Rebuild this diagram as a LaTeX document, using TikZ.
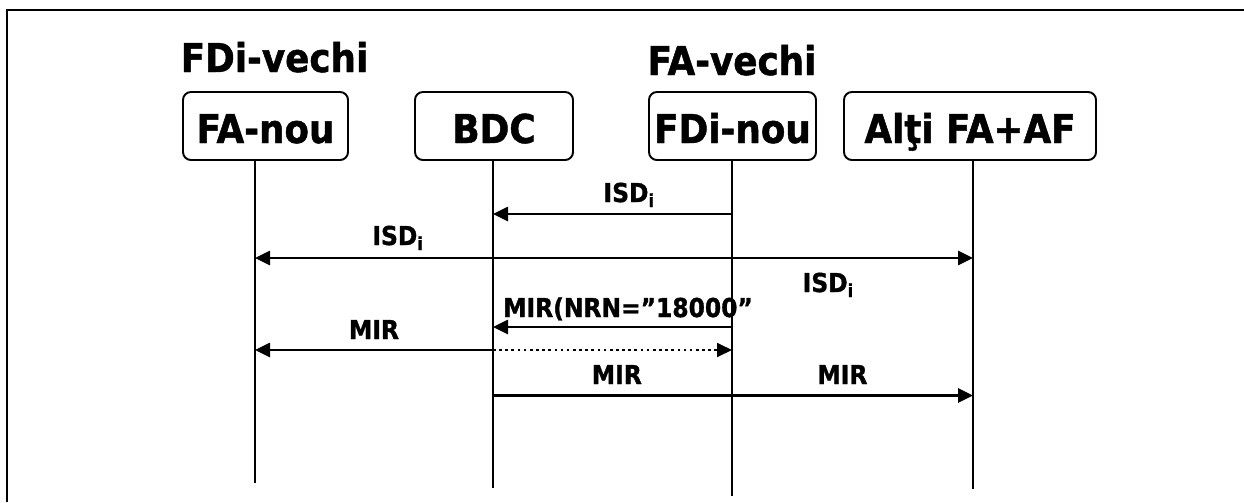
\documentclass[tikz,border=0pt]{standalone}
\usepackage{fontspec}
\setmainfont{DejaVu Sans Condensed}[BoldFeatures={FakeBold=1.2}]
\usepackage{tikz}
\usetikzlibrary{positioning,arrows.meta,calc}

\newcommand{\bigtxt}{\fontsize{22.6}{27}\selectfont\bfseries}
\newcommand{\smalltxt}{\fontsize{14.8}{17}\selectfont\bfseries}

\begin{document}
\begin{tikzpicture}[
  actor/.style={draw, rounded corners=4.5pt, line width=1.1pt, inner sep=0pt,
                minimum height=1.36cm, text height=0.68cm, text depth=0pt, font=\bigtxt},
  role/.style ={anchor=base, inner sep=0pt, font=\bigtxt},
  life/.style ={line width=1.2pt},
  msg/.style  ={-{Triangle[length=0.3cm,width=0.28cm]}, line width=1.5pt},
  opt/.style  ={msg, dotted, line width=1pt},
  lbl/.style  ={anchor=base, inner sep=0pt, font=\smalltxt},
  frame/.style={line width=1.3pt},
]
\useasboundingbox (0,0) rectangle (24.88,-10.04);
\draw[frame] (0.14,-10.04) -- (0.14,-0.2) -- (24.88,-0.2);

\node[actor, minimum width=3.30cm] (fanou)  at (5.31,-2.52)  {FA-nou};
\node[actor, minimum width=3.16cm] (bdc)    at (9.88,-2.52)  {BDC};
\node[actor, minimum width=3.34cm] (fdinou) at (14.65,-2.52) {FDi-nou};
\node[actor, minimum width=5.04cm] (alti)   at (19.40,-2.52) {Alţi FA+AF};

\node[role] (fdivechi) at (5.49,-1.44)  {FDi-vechi};
\node[role] (favechi)  at (14.64,-1.50) {FA-vechi};

% lifelines
\foreach \n/\dx/\yb in {fanou/-0.21/-9.66, bdc/-0.02/-9.76, fdinou/-0.01/-9.92, alti/0.06/-9.78}{
  \draw[life] ([xshift=\dx cm]\n.south) coordinate (\n L) -- (\n L |- 0,\yb);
}

% message levels
\coordinate (y1) at (0,-4.28);
\coordinate (y2) at (0,-5.16);
\coordinate (y3) at (0,-6.54);
\coordinate (y4) at (0,-7.00);
\coordinate (y5) at (0,-7.91);

\draw[msg] (fdinouL |- y1) -- node[lbl, pos=0.43, yshift=0.24cm] {ISD\textsubscript{i}} (bdcL |- y1);
\draw[msg] (fdinouL |- y2) -- node[lbl, pos=0.70, yshift=0.26cm] {ISD\textsubscript{i}} (fanouL |- y2);
\draw[msg] (fdinouL |- y2) -- node[lbl, pos=0.40, yshift=-0.68cm] {ISD\textsubscript{i}} (altiL |- y2);
\draw[msg] (fdinouL |- y3) -- node[lbl, pos=0.435, yshift=0.20cm] {MIR(NRN=”18000”} (bdcL |- y3);
\draw[msg] (bdcL |- y4) -- node[lbl, pos=0.5, yshift=0.22cm] {MIR} (fanouL |- y4);
\draw[opt] (bdcL |- y4) -- (fdinouL |- y4);
\draw[msg] (bdcL |- y5) -- node[lbl, pos=0.258, yshift=0.23cm] {MIR}
                           node[lbl, pos=0.728, yshift=0.23cm] {MIR} (altiL |- y5);
\end{tikzpicture}
\end{document}
